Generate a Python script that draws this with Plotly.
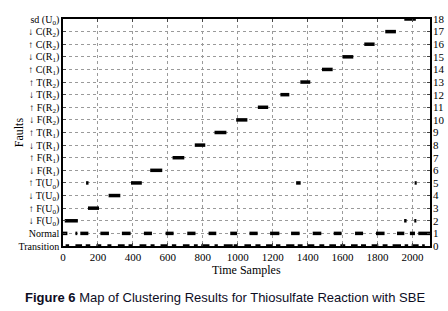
import plotly.graph_objects as go

# ---------------- data ----------------
level_labels = [
    "Transition", "Normal",
    "\u2193 F(U<sub>0</sub>)", "\u2191 F(U<sub>0</sub>)",
    "\u2193 T(U<sub>0</sub>)", "\u2191 T(U<sub>0</sub>)",
    "\u2193 F(R<sub>1</sub>)", "\u2191 F(R<sub>1</sub>)",
    "\u2193 T(R<sub>1</sub>)", "\u2191 T(R<sub>1</sub>)",
    "\u2193 F(R<sub>2</sub>)", "\u2191 F(R<sub>2</sub>)",
    "\u2193 T(R<sub>2</sub>)", "\u2191 T(R<sub>2</sub>)",
    "\u2191 C(R<sub>1</sub>)", "\u2193 C(R<sub>1</sub>)",
    "\u2191 C(R<sub>2</sub>)", "\u2193 C(R<sub>2</sub>)",
    "sd (U<sub>0</sub>)",
]
level_values = list(range(19))
x_ticks = [0, 200, 400, 600, 800, 1000, 1200, 1400, 1600, 1800, 2000]

# fault clusters: level, start sample, end sample
fault_level = [2, 2, 2, 3, 4, 5, 5, 5, 5, 6, 7, 8, 9, 10, 11, 12, 13, 14, 15, 16, 17, 18]
fault_start = [10, 1952, 2010, 143, 261, 132, 389, 1334, 2012, 499, 627, 754, 867, 991, 1115, 1244, 1358, 1482, 1600, 1724, 1844, 1953]
fault_end = [85, 1966, 2022, 206, 328, 146, 451, 1360, 2024, 568, 694, 814, 935, 1055, 1174, 1295, 1415, 1543, 1661, 1783, 1905, 2019]

# normal cluster (level 1)
normal_start = [0, 71, 99, 214, 337, 463, 587, 711, 833, 957, 1067, 1185, 1305, 1429, 1549, 1671, 1791, 1911, 1985, 2033]
normal_end = [25, 82, 145, 263, 387, 509, 633, 758, 877, 996, 1114, 1238, 1354, 1478, 1594, 1717, 1840, 1953, 2014, 2100]

# transition cluster (level 0)
trans_start = [15, 71, 130, 191, 254, 314, 375, 438, 501, 558, 623, 686, 749, 791, 867, 920, 977, 1038, 1101, 1162, 1219,
               1277, 1343, 1400, 1467, 1524, 1587, 1648, 1705, 1766, 1829, 1886, 1955, 1995, 2055]
trans_end = [35, 109, 156, 219, 277, 353, 400, 477, 524, 600, 648, 724, 771, 838, 886, 971, 1000, 1076, 1130, 1200, 1244,
             1324, 1371, 1438, 1495, 1562, 1615, 1686, 1734, 1804, 1857, 1934, 1975, 2035, 2070]


def segs(starts, ends, levels):
    xs, ys = [], []
    for s, e, l in zip(starts, ends, levels):
        xs += [s, e, None]
        ys += [l, l, None]
    return xs, ys


fx, fy = segs(fault_start, fault_end, fault_level)
nx, ny = segs(normal_start, normal_end, [1] * len(normal_start))
tx, ty = segs(trans_start, trans_end, [0] * len(trans_start))

SERIF = "Liberation Serif"
LW = 3.5

fig = go.Figure()
fig.add_trace(go.Scatter(x=fx, y=fy, mode="lines", line=dict(color="black", width=LW),
                         cliponaxis=False, showlegend=False, hoverinfo="skip"))
fig.add_trace(go.Scatter(x=nx, y=ny, mode="lines", line=dict(color="black", width=LW),
                         cliponaxis=False, showlegend=False, hoverinfo="skip"))
fig.add_trace(go.Scatter(x=tx, y=ty, mode="lines", line=dict(color="black", width=LW),
                         cliponaxis=False, showlegend=False, hoverinfo="skip", yaxis="y2"))

fig.update_layout(
    template="none",
    width=448, height=311,
    margin=dict(l=63, r=18, t=19, b=65, autoexpand=False),
    paper_bgcolor="white", plot_bgcolor="white",
    font=dict(family=SERIF, color="black", size=11),
    xaxis=dict(range=[0, 2100], tickvals=x_ticks, ticks="inside", ticklen=3,
               showline=True, linecolor="black", linewidth=1.5, mirror="ticks",
               showgrid=True, gridcolor="#9a9a9a", griddash="dot", gridwidth=1,
               zeroline=False, automargin=False, tickfont=dict(size=11, family=SERIF)),
    yaxis=dict(range=[0, 18], tickvals=level_values, ticktext=level_labels,
               ticks="inside", ticklen=3, showline=True, linecolor="black", linewidth=1.5,
               mirror=True, showgrid=True, gridcolor="#9a9a9a", griddash="dot", gridwidth=1,
               zeroline=False, automargin=False, tickfont=dict(size=10, family=SERIF)),
    yaxis2=dict(range=[0, 18], tickvals=level_values, overlaying="y", side="right",
                ticks="inside", ticklen=3, showline=False, showgrid=False, zeroline=False,
                automargin=False, ticklabelstandoff=2, tickfont=dict(size=11, family=SERIF)),
)

fig.add_annotation(text="Faults", xref="paper", yref="paper", x=-0.145, y=0.5,
                   textangle=-90, showarrow=False, font=dict(size=12, family=SERIF))
fig.add_annotation(text="Time Samples", xref="paper", yref="paper", x=0.5, y=-0.106,
                   yanchor="middle", showarrow=False, font=dict(size=12, family=SERIF))
fig.add_annotation(text="<b>Figure 6</b> Map of Clustering Results for Thiosulfate Reaction with SBE",
                   xref="paper", yref="paper", x=0.441, y=-0.225, yanchor="middle",
                   showarrow=False, font=dict(size=13, family="Liberation Sans", color="#0d0d1f"))

fig.write_html("out.html", config={"displayModeBar": False},
               post_script="document.body.style.margin='0';document.body.style.overflow='hidden';")
